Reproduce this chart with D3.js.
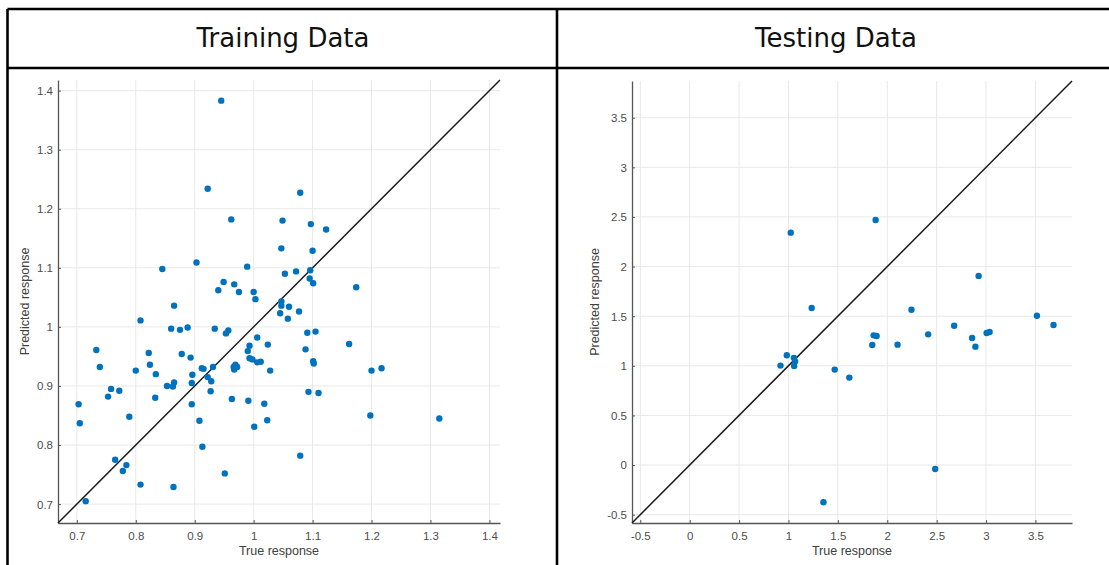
<!DOCTYPE html>
<html>
<head>
<meta charset="utf-8">
<script src="https://cdn.jsdelivr.net/npm/d3@7"></script>
<style>
  html, body { margin: 0; padding: 0; background: #fff; }
  svg { display: block; }
  .tick text { font-family: "Liberation Sans", Arial, sans-serif; font-size: 11.5px; fill: #4d4d4d; }
  .axis-title { font-family: "Liberation Sans", Arial, sans-serif; font-size: 12.5px; fill: #404040; }
  .cell-title { font-family: "DejaVu Sans", sans-serif; font-size: 26px; fill: #111; }
</style>
</head>
<body>
<svg id="chart" width="1109" height="565"></svg>
<script>
// Panel titles
const panelTitles = ["Training Data", "Testing Data"];

// Training set: true vs predicted response
const trainTrue = [0.945, 0.922, 0.962, 0.903, 0.845, 0.989, 0.949, 0.967, 0.940, 0.975,
  1.000, 1.003, 0.865, 0.808, 1.079, 1.049, 1.097, 1.123, 1.047, 1.100,
  1.053, 1.072, 1.096, 1.095, 1.101, 1.174, 1.047, 1.047, 1.060, 1.077,
  1.045, 1.058, 0.934, 0.957, 0.953, 1.006, 1.091, 1.105, 1.024, 0.993,
  0.990, 1.088, 0.993, 0.998, 1.006, 1.012, 1.101, 1.102, 0.969, 0.966,
  0.972, 1.028, 0.967, 0.703, 0.705, 0.733, 0.739, 0.758, 0.753, 0.772,
  0.789, 0.765, 0.784, 0.778, 0.715, 0.808, 0.864, 0.800, 0.822, 0.824,
  0.834, 0.833, 0.853, 0.863, 0.865, 0.860, 0.875, 0.888, 0.878, 0.893,
  0.896, 0.895, 0.895, 0.908, 0.913, 0.912, 0.915, 0.922, 0.928, 0.931,
  0.927, 0.951, 0.963, 0.991, 1.001, 1.018, 1.023, 1.162, 1.200, 1.217,
  1.093, 1.110, 1.198, 1.315, 1.079];
const trainPred = [1.383, 1.234, 1.182, 1.109, 1.098, 1.102, 1.076, 1.072, 1.062, 1.059,
  1.059, 1.047, 1.036, 1.011, 1.227, 1.180, 1.174, 1.165, 1.133, 1.129,
  1.090, 1.094, 1.096, 1.082, 1.074, 1.067, 1.043, 1.036, 1.034, 1.026,
  1.023, 1.014, 0.997, 0.994, 0.989, 0.982, 0.990, 0.992, 0.970, 0.968,
  0.959, 0.962, 0.947, 0.945, 0.940, 0.941, 0.942, 0.938, 0.936, 0.932,
  0.932, 0.926, 0.928, 0.869, 0.837, 0.961, 0.932, 0.895, 0.882, 0.892,
  0.848, 0.775, 0.766, 0.756, 0.705, 0.733, 0.729, 0.926, 0.956, 0.936,
  0.920, 0.880, 0.900, 0.899, 0.906, 0.997, 0.995, 0.999, 0.954, 0.948,
  0.919, 0.905, 0.869, 0.841, 0.797, 0.930, 0.929, 0.915, 0.908, 0.932,
  0.891, 0.752, 0.878, 0.875, 0.831, 0.870, 0.842, 0.971, 0.926, 0.930,
  0.890, 0.888, 0.850, 0.845, 0.782];

// Testing set: true vs predicted response
const testTrue = [0.919, 0.983, 1.055, 1.067, 1.057, 1.023, 1.235, 1.882, 2.245, 2.925,
  3.515, 1.468, 1.354, 1.616, 1.848, 1.862, 1.892, 2.104, 2.414, 2.485,
  2.677, 2.859, 2.892, 3.006, 3.036, 3.683];
const testPred = [1.002, 1.106, 1.080, 1.045, 0.999, 2.342, 1.582, 2.469, 1.565, 1.906,
  1.505, 0.962, -0.375, 0.881, 1.210, 1.307, 1.300, 1.213, 1.317, -0.040,
  1.404, 1.280, 1.193, 1.331, 1.341, 1.411];

// Axis limits and tick values
const trainLimits = [0.668, 1.418];
const testLimits = [-0.584, 3.87];
const trainTicks = [0.7, 0.8, 0.9, 1.0, 1.1, 1.2, 1.3, 1.4];
const testTicks = [-0.5, 0, 0.5, 1, 1.5, 2, 2.5, 3, 3.5];

const xLabel = "True response";
const yLabel = "Predicted response";

const svg = d3.select("#chart");
svg.append("rect").attr("width", 1109).attr("height", 565).attr("fill", "#fff");

// Table frame around the two panels
const frame = svg.append("g").attr("stroke", "#000").attr("stroke-width", 2.6);
frame.append("line").attr("x1", 7.5).attr("x2", 1109).attr("y1", 9).attr("y2", 9);
frame.append("line").attr("x1", 7.5).attr("x2", 1109).attr("y1", 68).attr("y2", 68);
frame.append("line").attr("x1", 7.5).attr("x2", 7.5).attr("y1", 9).attr("y2", 565);
frame.append("line").attr("x1", 557).attr("x2", 557).attr("y1", 9).attr("y2", 565);

svg.append("text").attr("class", "cell-title").attr("x", 283).attr("y", 47)
  .attr("text-anchor", "middle").text(panelTitles[0]);
svg.append("text").attr("class", "cell-title").attr("x", 836).attr("y", 47)
  .attr("text-anchor", "middle").text(panelTitles[1]);

const fmt = v => String(+v.toFixed(2));

function drawPanel(opts) {
  const { left, right, top, bottom, limits, ticks, xs, ys, ylabelX } = opts;
  const x = d3.scaleLinear().domain(limits).range([left, right]);
  const y = d3.scaleLinear().domain(limits).range([bottom, top]);
  const g = svg.append("g");

  // grid
  const grid = g.append("g").attr("stroke", "#e8e8e8").attr("stroke-width", 1);
  grid.selectAll("line.v").data(ticks).join("line").attr("class", "v")
    .attr("x1", d => x(d)).attr("x2", d => x(d)).attr("y1", top).attr("y2", bottom);
  grid.selectAll("line.h").data(ticks).join("line").attr("class", "h")
    .attr("x1", left).attr("x2", right).attr("y1", d => y(d)).attr("y2", d => y(d));

  // axes
  const xAxis = d3.axisBottom(x).tickValues(ticks).tickFormat(fmt)
    .tickSizeInner(-3).tickSizeOuter(0).tickPadding(9);
  const yAxis = d3.axisLeft(y).tickValues(ticks).tickFormat(fmt)
    .tickSizeInner(-3).tickSizeOuter(0).tickPadding(5);
  const gx = g.append("g").attr("transform", `translate(0,${bottom})`).call(xAxis);
  const gy = g.append("g").attr("transform", `translate(${left},0)`).call(yAxis);
  [gx, gy].forEach(a => {
    a.select(".domain").attr("stroke", "#555").attr("stroke-width", 1.3);
    a.selectAll(".tick line").attr("stroke", "#555");
    a.attr("font-size", null).attr("font-family", null);
  });
  gy.selectAll(".tick text").attr("dy", "0.34em");

  // identity line
  g.append("line")
    .attr("x1", x(limits[0])).attr("y1", y(limits[0]))
    .attr("x2", x(limits[1])).attr("y2", y(limits[1]))
    .attr("stroke", "#1a1a1a").attr("stroke-width", 1.5);

  // points
  g.append("g").selectAll("circle").data(xs.map((v, i) => [v, ys[i]])).join("circle")
    .attr("cx", d => x(d[0])).attr("cy", d => y(d[1])).attr("r", 3.2)
    .attr("fill", "#0072BD");

  // axis titles
  g.append("text").attr("class", "axis-title").attr("text-anchor", "middle")
    .attr("x", (left + right) / 2).attr("y", bottom + 32).text(xLabel);
  g.append("text").attr("class", "axis-title").attr("text-anchor", "middle")
    .attr("transform", `translate(${ylabelX},${(top + bottom) / 2}) rotate(-90)`)
    .text(yLabel);
}

drawPanel({ left: 58, right: 500, top: 80, bottom: 523, limits: trainLimits,
  ticks: trainTicks, xs: trainTrue, ys: trainPred, ylabelX: 29 });
drawPanel({ left: 632, right: 1072, top: 81, bottom: 523, limits: testLimits,
  ticks: testTicks, xs: testTrue, ys: testPred, ylabelX: 599 });
</script>
</body>
</html>
